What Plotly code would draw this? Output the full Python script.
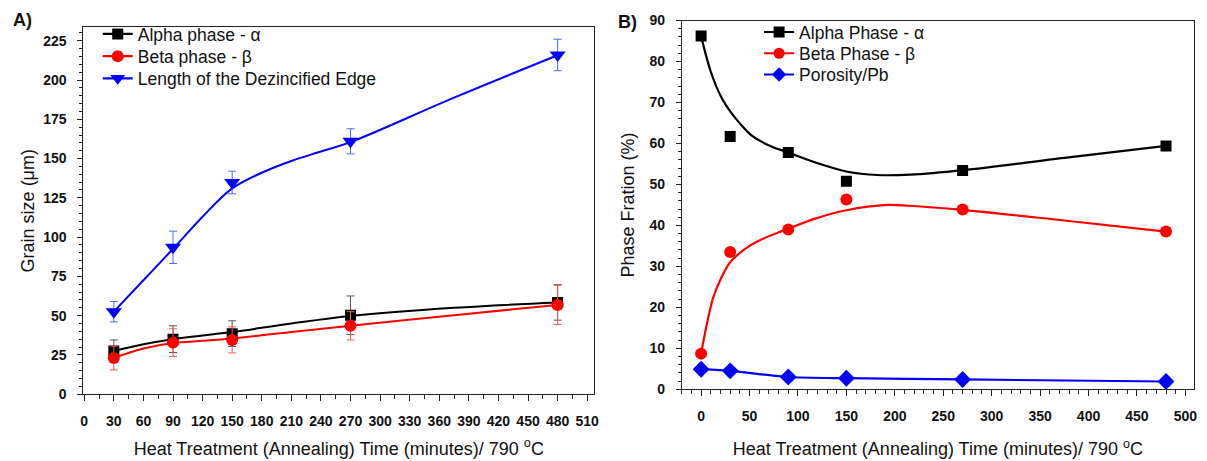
import plotly.graph_objects as go

# ---------------- Panel A data ----------------
time_a = [30, 90, 150, 270, 480]
alpha_a = [27.5, 35.0, 38.5, 50.2, 58.4]
alpha_a_err = [7.0, 8.5, 8.2, 12.3, 11.3]
beta_a = [23.0, 32.8, 34.5, 43.5, 56.8]
beta_a_err = [7.6, 8.8, 8.3, 9.0, 12.5]
edge_a = [52.5, 93.5, 134.8, 161.0, 216.0]
edge_a_err = [6.5, 10.3, 7.2, 8.0, 10.0]

# smooth curves of panel A
alpha_a_curve_t = [30, 60, 90, 120, 150, 210, 270, 375, 480]
alpha_a_curve = [27.5, 31.8, 35.0, 37.3, 39.5, 45.0, 49.8, 55.0, 58.4]
beta_a_curve_t = [30, 60, 90, 120, 150, 210, 270, 375, 480]
beta_a_curve = [23.0, 29.0, 32.5, 34.0, 35.5, 39.5, 43.5, 50.3, 56.8]
edge_a_curve_t = [30, 60, 90, 120, 150, 180, 210, 240, 270, 375, 480]
edge_a_curve = [52.5, 72.5, 92.5, 113.0, 131.0, 141.0, 148.5, 154.5, 160.5, 188.8, 215.8]

# ---------------- Panel B data ----------------
time_b = [0, 30, 90, 150, 270, 480]
alpha_b = [86.2, 61.7, 57.8, 50.8, 53.4, 59.4]
beta_b = [8.7, 33.5, 39.0, 46.3, 43.9, 38.5]
poro_b = [4.9, 4.5, 3.0, 2.7, 2.4, 1.9]

# fitted (smoothed) curves of panel B
alpha_fit_t = [0, 10, 21, 31, 40, 52, 72, 91, 120, 151, 182, 216, 271, 375, 480]
alpha_fit = [86.2, 77.5, 71.2, 67.5, 64.9, 62.0, 59.3, 57.7, 55.2, 53.1, 52.3, 52.4, 53.5, 56.5, 59.4]
beta_fit_t = [0, 6, 12, 20, 30, 45, 60, 90, 117, 150, 192, 215, 270, 375, 480]
beta_fit = [8.8, 16.0, 22.0, 26.8, 31.0, 34.2, 36.3, 39.2, 41.6, 43.7, 45.0, 44.8, 43.8, 41.2, 38.5]

ticks_a_x = list(range(0, 511, 30))
ticks_a_y = list(range(0, 226, 25))
ticks_b_x = list(range(0, 501, 50))
ticks_b_y = list(range(0, 91, 10))

xtitle = "Heat Treatment (Annealing) Time (minutes)/ 790 <sup>o</sup>C"

FONT = "Liberation Sans, Arial, sans-serif"
H = 461.0
fig = go.Figure()

def errbar(arr, color):
    return dict(type="data", array=arr, visible=True, color=color, thickness=1, width=4)

# Panel A: smooth curves
for t, v, col in [(alpha_a_curve_t, alpha_a_curve, "black"),
                  (beta_a_curve_t, beta_a_curve, "red"),
                  (edge_a_curve_t, edge_a_curve, "blue")]:
    fig.add_trace(go.Scatter(x=t, y=v, mode="lines", showlegend=False,
                             line=dict(color=col, width=2, shape="spline", smoothing=1.0),
                             xaxis="x", yaxis="y"))
# Panel A: markers with error bars
fig.add_trace(go.Scatter(x=time_a, y=alpha_a, mode="markers", showlegend=False,
                         marker=dict(symbol="square", size=11, color="black"),
                         error_y=errbar(alpha_a_err, "#555555"), xaxis="x", yaxis="y"))
fig.add_trace(go.Scatter(x=time_a, y=beta_a, mode="markers", showlegend=False,
                         marker=dict(symbol="circle", size=12, color="red"),
                         error_y=errbar(beta_a_err, "#ff5555"), xaxis="x", yaxis="y"))
fig.add_trace(go.Scatter(x=time_a, y=edge_a, mode="markers", showlegend=False,
                         marker=dict(symbol="triangle-down", size=14, color="blue"),
                         error_y=errbar(edge_a_err, "#5566ff"), xaxis="x", yaxis="y"))

# Panel B curves
fig.add_trace(go.Scatter(x=alpha_fit_t, y=alpha_fit, mode="lines", showlegend=False,
                         line=dict(color="black", width=2.2, shape="spline", smoothing=0.9),
                         xaxis="x2", yaxis="y2"))
fig.add_trace(go.Scatter(x=beta_fit_t, y=beta_fit, mode="lines", showlegend=False,
                         line=dict(color="red", width=2.2, shape="spline", smoothing=0.9),
                         xaxis="x2", yaxis="y2"))
fig.add_trace(go.Scatter(x=time_b, y=poro_b, mode="lines+markers", showlegend=False,
                         line=dict(color="blue", width=2.2, shape="spline", smoothing=0.6),
                         marker=dict(symbol="diamond", size=13, color="blue"), xaxis="x2", yaxis="y2"))
fig.add_trace(go.Scatter(x=time_b, y=alpha_b, mode="markers", showlegend=False,
                         marker=dict(symbol="square", size=11, color="black"), xaxis="x2", yaxis="y2"))
fig.add_trace(go.Scatter(x=time_b, y=beta_b, mode="markers", showlegend=False,
                         marker=dict(symbol="circle", size=12, color="red"), xaxis="x2", yaxis="y2"))

# legend entries (one legend box per entry for exact row spacing)
legend_items = [
    ("Alpha phase - α", "black", "square", 11, "x", "y", "legend", 0.079, 27),
    ("Beta phase - β", "red", "circle", 12, "x", "y", "legend2", 0.079, 50),
    ("Length of the Dezincified Edge", "blue", "triangle-down", 13, "x", "y", "legend3", 0.079, 73),
    ("Alpha Phase - α", "black", "square", 11, "x2", "y2", "legend4", 0.6306, 25),
    ("Beta Phase - β", "red", "circle", 11, "x2", "y2", "legend5", 0.6306, 47),
    ("Porosity/Pb", "blue", "diamond", 11, "x2", "y2", "legend6", 0.6306, 69),
]
legend_layout = {}
for nm, col, sym, sz, xa, ya, lg, lx, ly in legend_items:
    fig.add_trace(go.Scatter(x=[None], y=[None], mode="lines+markers", name=nm,
                             line=dict(color=col, width=2.2), marker=dict(symbol=sym, size=sz, color=col),
                             xaxis=xa, yaxis=ya, legend=lg))
    legend_layout[lg] = dict(x=lx, y=1 - ly / H, xanchor="left", yanchor="middle",
                             bgcolor="rgba(0,0,0,0)", itemwidth=30,
                             font=dict(family=FONT, size=17.5, color="#111111"))

axis_common = dict(showline=True, linecolor="#222222", linewidth=1, mirror=True, ticks="outside",
                   tickwidth=1, tickcolor="#222222", showgrid=False, zeroline=False,
                   tickfont=dict(family=FONT, size=14, color="#111111"),
                   title_font=dict(family=FONT, size=18, color="#111111"))

def bold(vals):
    return ["<b>%d</b>" % v for v in vals]

fig.update_layout(
    width=1207, height=461, margin=dict(l=0, r=0, t=0, b=0),
    paper_bgcolor="white", plot_bgcolor="white",
    font=dict(family=FONT, color="#111111"),
    xaxis=dict(domain=[0.0671, 0.493], range=[-0.8, 517], anchor="y", tickmode="array",
               tickvals=ticks_a_x, ticktext=bold(ticks_a_x), ticklen=6, ticklabelstandoff=8,
               minor=dict(dtick=15, tick0=0, ticks="outside", ticklen=4, tickcolor="#222222"),
               title=dict(text=xtitle, standoff=14), **axis_common),
    yaxis=dict(domain=[0.1323, 0.9566], range=[0, 233.6], anchor="x", tickmode="array",
               tickvals=ticks_a_y, ticktext=bold(ticks_a_y), ticklen=5, ticklabelstandoff=8,
               minor=dict(dtick=5, tick0=0, ticks="outside", ticklen=3, tickcolor="#222222"),
               title=dict(text="Grain size (μm)", standoff=3), **axis_common),
    xaxis2=dict(domain=[0.5661, 0.9934], range=[-20, 509], anchor="y2", tickmode="array",
                tickvals=ticks_b_x, ticktext=bold(ticks_b_x), ticklen=6, ticklabelstandoff=8,
                minor=dict(dtick=10, tick0=0, ticks="outside", ticklen=4, tickcolor="#222222"),
                title=dict(text=xtitle, standoff=19), **axis_common),
    yaxis2=dict(domain=[0.1432, 0.9718], range=[0, 90], anchor="x2", tickmode="array",
                tickvals=ticks_b_y, ticktext=bold(ticks_b_y), ticklen=5, ticklabelstandoff=8,
                minor=dict(dtick=2, tick0=0, ticks="outside", ticklen=3, tickcolor="#222222"),
                title=dict(text="Phase Fration (%)", standoff=10), **axis_common),
    annotations=[
        dict(text="<b>A)</b>", x=0.007, y=1.0, xref="paper", yref="paper", showarrow=False,
             xanchor="left", yanchor="top", font=dict(family=FONT, size=18, color="#111111")),
        dict(text="<b>B)</b>", x=0.511, y=0.995, xref="paper", yref="paper", showarrow=False,
             xanchor="left", yanchor="top", font=dict(family=FONT, size=18, color="#111111")),
    ],
    **legend_layout,
)

fig.write_html("out.html")
